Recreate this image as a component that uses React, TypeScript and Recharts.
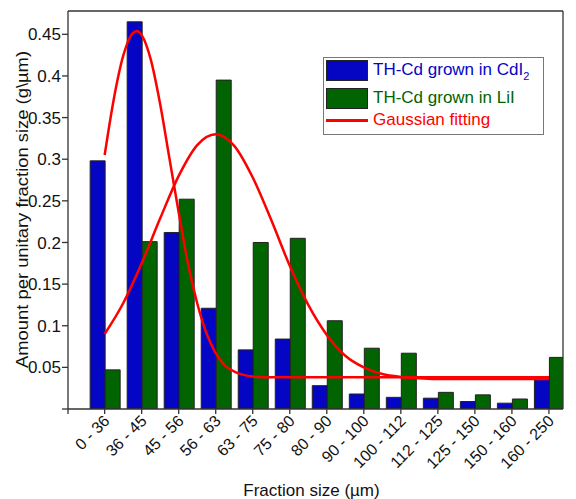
import React from 'react';
import { ComposedChart, Bar, Line, XAxis, YAxis, Legend } from 'recharts';

// Size fractions on the horizontal axis
const categories = [
  '0 - 36', '36 - 45', '45 - 56', '56 - 63', '63 - 75', '75 - 80', '80 - 90',
  '90 - 100', '100 - 112', '112 - 125', '125 - 150', '150 - 160', '160 - 250',
];

// Amount per unitary fraction size (g\µm)
const cdI2Amount = [0.298, 0.465, 0.212, 0.121, 0.071, 0.084, 0.028, 0.018, 0.014, 0.013, 0.009, 0.007, 0.039];
const lilAmount = [0.047, 0.201, 0.252, 0.395, 0.200, 0.205, 0.106, 0.073, 0.067, 0.020, 0.017, 0.012, 0.062];

// Gaussian fit for the CdI2 distribution (position in category units, value)
const fitCdI2Pos = [0, 0.25, 0.5, 0.75, 0.875, 1, 1.25, 1.5, 1.75, 2, 2.25, 2.5, 2.75, 3, 3.25, 3.5, 3.75, 4, 4.5, 5, 6, 8, 10, 12];
const fitCdI2Val = [0.305, 0.373, 0.424, 0.451, 0.454, 0.449, 0.419, 0.366, 0.301, 0.236, 0.175, 0.127, 0.091, 0.067, 0.052, 0.045, 0.041, 0.039, 0.038, 0.038, 0.038, 0.038, 0.038, 0.038];

// Gaussian fit for the LiI distribution
const fitLilPos = [0, 0.5, 1, 1.5, 2, 2.5, 3, 3.5, 4, 4.5, 5, 5.5, 6, 6.5, 7, 7.5, 8, 8.5, 9, 10, 11, 12];
const fitLilVal = [0.090, 0.127, 0.175, 0.229, 0.280, 0.317, 0.330, 0.316, 0.278, 0.227, 0.172, 0.125, 0.089, 0.064, 0.050, 0.042, 0.0385, 0.037, 0.036, 0.036, 0.036, 0.036];

const yTicks = [0, 0.05, 0.1, 0.15, 0.2, 0.25, 0.3, 0.35, 0.4, 0.45];
const yDomain: [number, number] = [0, 0.478];
const xDomain: [number, number] = [-0.99, 12.38];

const BLUE = '#0505c4';
const GREEN = '#016401';
const RED = '#ff0000';
const AXIS = '#333';
const FONT = '"Liberation Sans", Arial, sans-serif';

// chart geometry
const WIDTH = 576;
const HEIGHT = 499;
const MARGIN = { top: 10, right: 12, bottom: 2, left: 8 };
const X_AXIS_HEIGHT = 88;
const TOP_AXIS_HEIGHT = 1;
const Y_AXIS_WIDTH = 60;
const PLOT_TOP = MARGIN.top + TOP_AXIS_HEIGHT;
const PLOT_BOTTOM = HEIGHT - MARGIN.bottom - X_AXIS_HEIGHT;

const barData = categories.map((label, i) => ({
  pos: i,
  label,
  cdI2: cdI2Amount[i],
  lil: lilAmount[i],
}));
const fitCdI2 = fitCdI2Pos.map((pos, i) => ({ pos, fit: fitCdI2Val[i] }));
const fitLil = fitLilPos.map((pos, i) => ({ pos, fit: fitLilVal[i] }));

const xTicks = [xDomain[0], ...categories.map((_, i) => i)];

const CategoryTick = (props: any) => {
  const { x, y, payload } = props;
  const label = categories[payload.value];
  if (label === undefined) return null;
  const ax = x + 6;
  const ay = y + 8;
  return (
    <text
      x={ax}
      y={ay}
      transform={`rotate(-45 ${ax} ${ay})`}
      textAnchor="end"
      fontSize={16}
      fontFamily={FONT}
      fill="#111"
    >
      {label}
    </text>
  );
};

const XTitle = (props: any) => {
  const vb = props.viewBox || { x: 68, y: PLOT_BOTTOM, width: 495, height: X_AXIS_HEIGHT };
  return (
    <text
      x={vb.x + vb.width / 2 - 4}
      y={PLOT_BOTTOM + 87}
      textAnchor="middle"
      fontSize={17}
      fontFamily={FONT}
      fill="#111"
    >
      Fraction size (µm)
    </text>
  );
};

const YTitle = () => {
  const tx = MARGIN.left + 19.5;
  const ty = (PLOT_TOP + PLOT_BOTTOM) / 2 - 0.5;
  return (
    <text
      x={tx}
      y={ty}
      transform={`rotate(-90 ${tx} ${ty})`}
      textAnchor="middle"
      fontSize={17}
      textLength={317}
      lengthAdjust="spacingAndGlyphs"
      fontFamily={FONT}
      fill="#111"
    >
      Amount per unitary fraction size (g\µm)
    </text>
  );
};

const legendRows = [
  { kind: 'bar', color: BLUE, text: 'TH-Cd grown in CdI', sub: '2' },
  { kind: 'bar', color: GREEN, text: 'TH-Cd grown in LiI', sub: '' },
  { kind: 'line', color: RED, text: 'Gaussian fitting', sub: '' },
];
const legendRowTop = [2, 30, 52];

const LegendBox = () => (
  <div
    style={{
      position: 'relative',
      width: 219,
      height: 76,
      border: '1px solid #777',
      background: '#fff',
      fontFamily: FONT,
      fontSize: 17,
    }}
  >
    {legendRows.map((r, i) => (
      <React.Fragment key={r.text}>
        {r.kind === 'bar' ? (
          <div
            style={{
              position: 'absolute',
              left: 2,
              top: legendRowTop[i],
              width: 40,
              height: 19,
              background: r.color,
              border: '1px solid #222',
            }}
          />
        ) : (
          <div
            style={{
              position: 'absolute',
              left: 2,
              top: legendRowTop[i] + 9,
              width: 42,
              height: 2.5,
              background: r.color,
            }}
          />
        )}
        <div
          style={{
            position: 'absolute',
            left: 49,
            top: legendRowTop[i],
            height: 20,
            lineHeight: '20px',
            color: r.color,
            whiteSpace: 'nowrap',
          }}
        >
          {r.text}
          {r.sub ? (
            <span style={{ fontSize: 11, position: 'relative', top: 5 }}>{r.sub}</span>
          ) : null}
        </div>
      </React.Fragment>
    ))}
  </div>
);

export default function App() {
  return (
    <div style={{ position: 'absolute', left: 0, top: 0, width: WIDTH, height: HEIGHT, background: '#fff' }}>
      <ComposedChart width={WIDTH} height={HEIGHT} data={barData} margin={MARGIN} barGap={0}>
        <XAxis
          xAxisId="cat"
          type="number"
          dataKey="pos"
          domain={xDomain}
          ticks={xTicks}
          interval={0}
          allowDataOverflow
          tick={<CategoryTick />}
          tickSize={5}
          tickMargin={0}
          tickLine={{ stroke: AXIS, strokeWidth: 1.3 }}
          axisLine={{ stroke: AXIS, strokeWidth: 1.3 }}
          height={X_AXIS_HEIGHT}
          label={<XTitle />}
        />
        {/* top edge of the frame; also carries the fitted curves */}
        <XAxis
          xAxisId="top"
          orientation="top"
          type="number"
          dataKey="pos"
          domain={xDomain}
          allowDataOverflow
          tick={false}
          tickLine={false}
          axisLine={{ stroke: AXIS, strokeWidth: 1.3 }}
          height={TOP_AXIS_HEIGHT}
        />
        <YAxis
          yAxisId="left"
          domain={yDomain}
          ticks={yTicks}
          interval={0}
          allowDataOverflow
          width={Y_AXIS_WIDTH}
          tickSize={6}
          tickMargin={1}
          tickFormatter={(v: number) => (v === 0 ? '' : String(v))}
          tick={{ fontSize: 17, fontFamily: FONT, fill: '#111' }}
          tickLine={{ stroke: AXIS, strokeWidth: 1.3 }}
          axisLine={{ stroke: AXIS, strokeWidth: 1.3 }}
          label={<YTitle />}
        />
        {/* right edge of the frame */}
        <YAxis
          yAxisId="right"
          orientation="right"
          domain={yDomain}
          allowDataOverflow
          width={1}
          tick={false}
          tickLine={false}
          axisLine={{ stroke: AXIS, strokeWidth: 1.3 }}
        />
        <Bar
          xAxisId="cat"
          yAxisId="left"
          dataKey="cdI2"
          name="TH-Cd grown in CdI2"
          barSize={15}
          fill={BLUE}
          stroke="#222"
          strokeWidth={1}
          isAnimationActive={false}
        />
        <Bar
          xAxisId="cat"
          yAxisId="left"
          dataKey="lil"
          name="TH-Cd grown in LiI"
          barSize={15}
          fill={GREEN}
          stroke="#222"
          strokeWidth={1}
          isAnimationActive={false}
        />
        <Line
          xAxisId="top"
          yAxisId="right"
          data={fitCdI2}
          dataKey="fit"
          type="monotone"
          stroke={RED}
          strokeWidth={2.5}
          dot={false}
          activeDot={false}
          isAnimationActive={false}
        />
        <Line
          xAxisId="top"
          yAxisId="right"
          data={fitLil}
          dataKey="fit"
          type="monotone"
          stroke={RED}
          strokeWidth={2.5}
          dot={false}
          activeDot={false}
          isAnimationActive={false}
        />
        <Legend
          layout="horizontal"
          verticalAlign="middle"
          align="center"
          content={<LegendBox />}
          wrapperStyle={{ position: 'absolute', left: 323, top: 57, width: 221, height: 78 }}
        />
      </ComposedChart>
    </div>
  );
}
